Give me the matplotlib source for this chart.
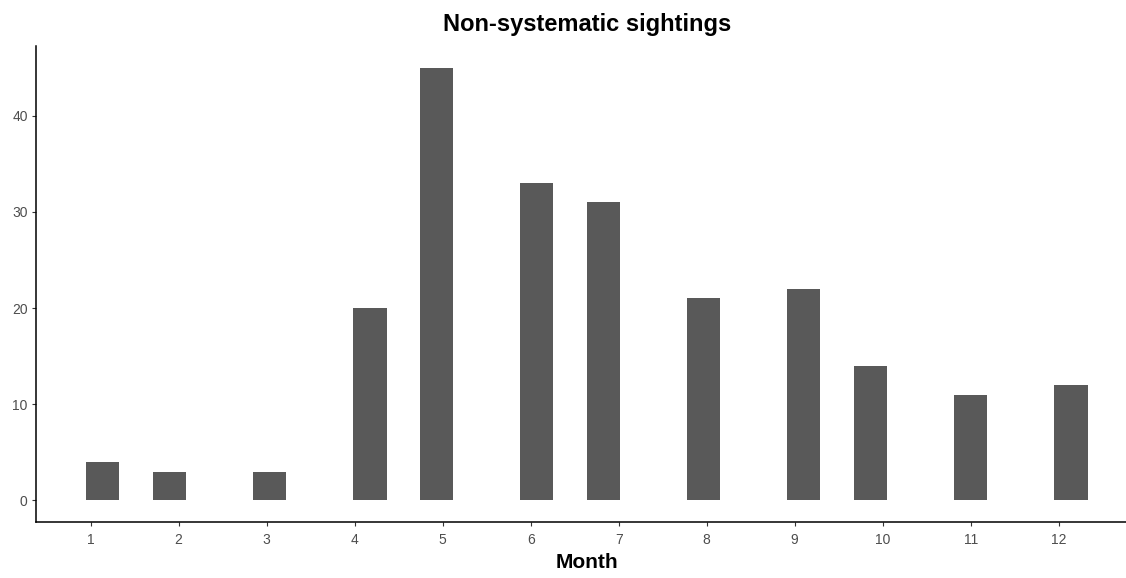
import matplotlib
matplotlib.use('Agg')
import matplotlib.pyplot as plt
import numpy as np

plt.rcParams['font.family'] = ['Liberation Sans', 'DejaVu Sans']

months = [1, 2, 3, 4, 5, 6, 7, 8, 9, 10, 11, 12]
counts = [4, 3, 3, 20, 45, 33, 31, 21, 22, 14, 11, 12]
y_ticks = [0, 10, 20, 30, 40]

# ggplot-style bins=30 over range of months
n_bins = 30
width = (max(months) - min(months)) / (n_bins - 1)
boundary = width / 2
shift = np.floor((min(months) - boundary) / width)
origin = boundary + shift * width
edges = origin + np.arange(n_bins + 1) * width

fig = plt.figure(figsize=(11.26, 5.78), dpi=100)
ax = fig.add_axes([36 / 1126, 56 / 578, 1101.6 / 1126, 476 / 578])

ax.hist(months, bins=edges, weights=counts, color='#595959', edgecolor='none')

rng = edges[-1] - edges[0]
ax.set_xlim(edges[0] - 0.05 * rng, edges[-1] + 0.05 * rng)
ax.set_ylim(-0.05 * max(counts), max(counts) * 1.05)

ax.set_xticks(months)
ax.set_xticklabels([str(m) for m in months])
ax.set_yticks(y_ticks)

for s in ['top', 'right']:
    ax.spines[s].set_visible(False)
for s in ['left', 'bottom']:
    ax.spines[s].set_linewidth(1.1)
    ax.spines[s].set_color('black')

ax.tick_params(axis='both', length=3, width=0.8, colors='#333333',
               labelcolor='#4d4d4d', labelsize=10)
ax.tick_params(axis='x', pad=5)
ax.tick_params(axis='y', pad=3)

ax.set_title('Non-systematic sightings', fontsize=17, fontweight='bold', pad=11)
ax.set_xlabel('Month', fontsize=15, fontweight='bold', labelpad=4)

fig.savefig('out.png', dpi=100)
